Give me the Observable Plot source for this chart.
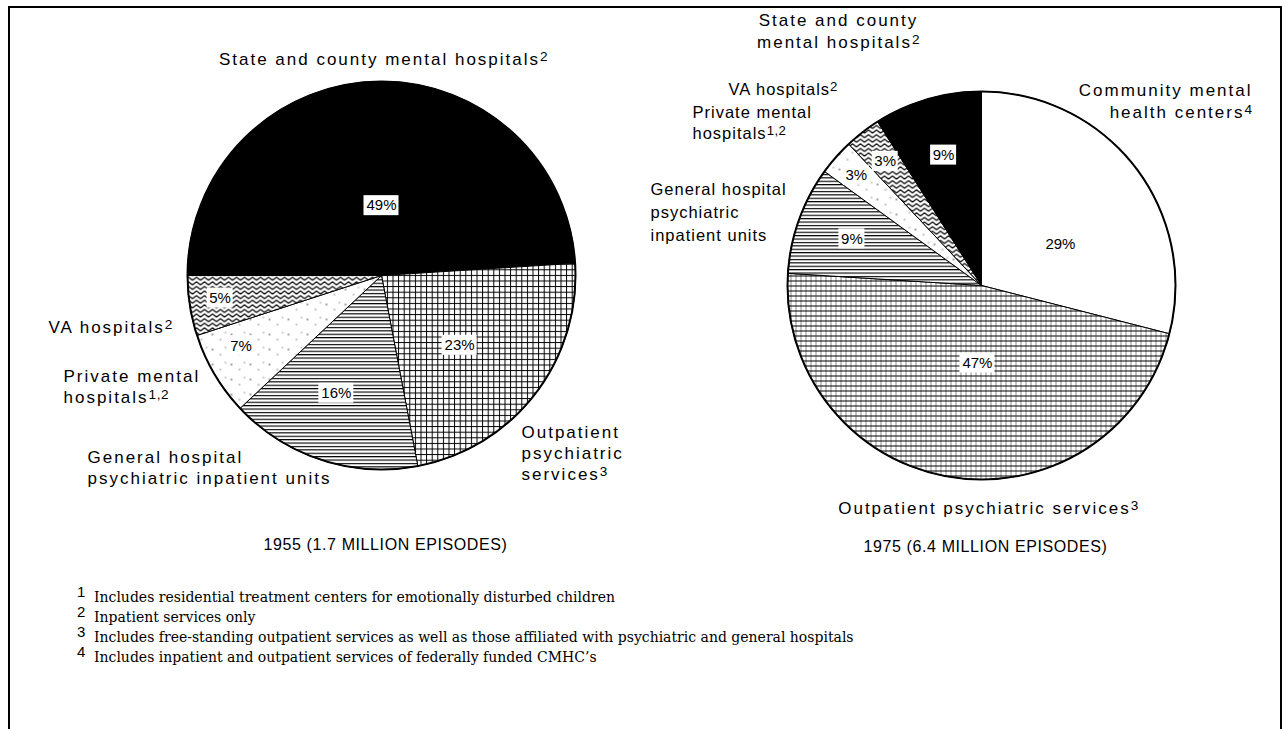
<!DOCTYPE html>
<html>
<head>
<meta charset="utf-8">
<script src="https://cdn.jsdelivr.net/npm/d3@7"></script>
<script src="https://cdn.jsdelivr.net/npm/@observablehq/plot@0.6"></script>
<style>
  body { margin: 0; background: #fff; }
  #wrap { position: relative; width: 1286px; height: 729px; overflow: hidden; background: #fff; }
  #frame { position: absolute; left: 8px; top: 6px; width: 1270px; height: 800px; border: 2px solid #000; border-bottom: none; }
  #chart { position: absolute; left: 0; top: 0; }
  #notes { position: absolute; left: 74px; top: 587px; font-family: "DejaVu Serif", serif; font-size: 14px; line-height: 20px; color: #000; }
  #notes .fn { white-space: nowrap; }
  #notes .mk { display: inline-block; width: 20px; font-family: "Liberation Sans", Arial, sans-serif; font-size: 15px; position: relative; top: -5px; text-align: left; padding-left: 3px; box-sizing: border-box; }
</style>
</head>
<body>
<div id="wrap">
  <div id="frame"></div>
  <div id="chart"></div>
  <div id="notes"></div>
</div>
<script>
// ---------------- DATA ----------------
const years = ["1955", "1975"];
const episodeTotals = ["1.7 MILLION EPISODES", "6.4 MILLION EPISODES"];

const categories1955 = [
  "State and county mental hospitals",
  "Outpatient psychiatric services",
  "General hospital psychiatric inpatient units",
  "Private mental hospitals",
  "VA hospitals"
];
const values1955 = [49, 23, 16, 7, 5];
const labels1955 = [
  "State and county mental hospitals{2}",
  "Outpatient\npsychiatric\nservices{3}",
  "General hospital\npsychiatric inpatient units",
  "Private mental\nhospitals{1,2}",
  "VA hospitals{2}"
];

const categories1975 = [
  "Community mental health centers",
  "Outpatient psychiatric services",
  "General hospital psychiatric inpatient units",
  "Private mental hospitals",
  "VA hospitals",
  "State and county mental hospitals"
];
const values1975 = [29, 47, 9, 3, 3, 9];
const labels1975 = [
  "Community mental\nhealth centers{4}",
  "Outpatient psychiatric services{3}",
  "General hospital\npsychiatric\ninpatient units",
  "Private mental\nhospitals{1,2}",
  "VA hospitals{2}",
  "State and county\nmental hospitals{2}"
];

const footnoteMarks = ["1", "2", "3", "4"];
const footnoteTexts = [
  "Includes residential treatment centers for emotionally disturbed children",
  "Inpatient services only",
  "Includes free-standing outpatient services as well as those affiliated with psychiatric and general hospitals",
  "Includes inpatient and outpatient services of federally funded CMHC\u2019s"
];

// ---------------- LAYOUT / STYLE ----------------
const W = 1286, H = 580;
const fillOf = {
  "State and county mental hospitals": "#000",
  "General hospital psychiatric inpatient units": "url(#p-hlines)",
  "Private mental hospitals": "url(#p-dots)",
  "VA hospitals": "url(#p-zig)",
  "Community mental health centers": "#fff"
};
// font size -> letter spacing
const spacingOf = {"17": "2px", "16.5": "1px", "16": "0.6px"};
const pies = [
  {
    cx: 381, cy: 275, r: 194, start: -90,
    cats: categories1955, vals: values1955, labels: labels1955,
    outpatientFill: "url(#p-grid)",
    // [x, y, textAnchor, fontSize, lineHeight] for category labels
    labelPos: [[383, 58, "middle", 17, 1.25], [521, 452, "start", 17, 1.22], [87, 466, "start", 17, 1.25], [63, 385, "start", 17, 1.22], [48, 326, "start", 17, 1.25]],
    // [radius fraction, angle offset (deg)] for percent labels
    pctPos: [[0.36, 1.8], [0.54, 4], [0.65, 3], [0.81, 4], [0.84, 1]],
    caption: [385, 544]
  },
  {
    cx: 981, cy: 285, r: 194, start: 0,
    cats: categories1975, vals: values1975, labels: labels1975,
    outpatientFill: "url(#p-grid2)",
    labelPos: [[1252, 99.5, "end", 17, 1.3], [988, 507, "middle", 17, 1.25], [650, 210, "start", 16.5, 1.38], [692, 121.5, "start", 16.5, 1.28], [728, 88, "start", 16.5, 1.25], [838, 29, "middle", 17, 1.3]],
    pctPos: [[0.46, 10], [0.40, -6], [0.71, 0], [0.86, 0], [0.81, 0], [0.70, 0]],
    caption: [985, 546]
  }
];

// ---------------- GEOMETRY ----------------
const deg = Math.PI / 180;
const sliceMarks = [];
const pctRows = [];
const labelMarks = [];
const capRows = [];
const circleRows = [];
const catFont = "Liberation Sans, Arial, sans-serif";

pies.forEach((p, pi) => {
  const arcs = d3.pie().sort(null).value(d => d)
    .startAngle(p.start * deg).endAngle(p.start * deg + 2 * Math.PI)(p.vals);
  arcs.forEach((a, i) => {
    const pts = [{x: p.cx, y: p.cy}];
    const n = Math.max(2, Math.ceil((a.endAngle - a.startAngle) / (0.5 * deg)));
    for (let k = 0; k <= n; k++) {
      const t = a.startAngle + (a.endAngle - a.startAngle) * k / n;
      pts.push({x: p.cx + p.r * Math.sin(t), y: p.cy - p.r * Math.cos(t)});
    }
    pts.push({x: p.cx, y: p.cy});
    const cat = p.cats[i];
    const fill = cat === "Outpatient psychiatric services" ? p.outpatientFill : fillOf[cat];
    sliceMarks.push(Plot.line(pts, {x: "x", y: "y", fill, stroke: "#000", strokeWidth: 1, strokeLinejoin: "round", curve: "linear"}));

    const [frac, off] = p.pctPos[i];
    const mid = (a.startAngle + a.endAngle) / 2 + off * deg;
    const txt = `${p.vals[i]}%`;
    pctRows.push({
      x: p.cx + frac * p.r * Math.sin(mid),
      y: p.cy - frac * p.r * Math.cos(mid),
      text: txt,
      w: txt.length * 9 + 8
    });
    const [lx, ly, anchor, fs, lh] = p.labelPos[i];
    labelMarks.push(Plot.text([{x: lx, y: ly, text: p.labels[i]}], {
      x: "x", y: "y", text: "text", textAnchor: anchor, lineHeight: lh,
      fontSize: fs, fontFamily: catFont, fill: "#000"
    }));
  });
  capRows.push({x: p.caption[0], y: p.caption[1], text: `${years[pi]} (${episodeTotals[pi]})`});
  circleRows.push({x: p.cx, y: p.cy, r: p.r});
});

const boxH = 20;
const chart = Plot.plot({
  width: W, height: H,
  margin: 0,
  x: {domain: [0, W], range: [0, W], axis: null},
  y: {domain: [0, H], range: [0, H], axis: null},
  style: {background: "transparent", overflow: "visible"},
  marks: [
    ...sliceMarks,
    Plot.dot(circleRows, {x: "x", y: "y", r: circleRows[0].r, fill: "none", stroke: "#000", strokeWidth: 2}),
    Plot.rect(pctRows, {x1: d => d.x - d.w / 2, x2: d => d.x + d.w / 2, y1: d => d.y - boxH / 2, y2: d => d.y + boxH / 2, fill: "#fff"}),
    Plot.text(pctRows, {x: "x", y: "y", text: "text", fontSize: 15, fontFamily: catFont, fill: "#000"}),
    ...labelMarks,
    Plot.text(capRows, {x: "x", y: "y", text: "text", fontSize: 16, fontFamily: catFont, fill: "#000"})
  ]
});

// patterns
const svgNS = "http://www.w3.org/2000/svg";
const defs = document.createElementNS(svgNS, "defs");
defs.innerHTML = `
<pattern id="p-hlines" patternUnits="userSpaceOnUse" width="6" height="3.4">
  <rect width="6" height="3.4" fill="#fff"/><rect y="0" width="6" height="1.15" fill="#000"/>
</pattern>
<pattern id="p-grid" patternUnits="userSpaceOnUse" width="5.6" height="5.6">
  <rect width="5.6" height="5.6" fill="#fff"/><rect width="5.6" height="1" fill="#000"/><rect width="1" height="5.6" fill="#000"/>
</pattern>
<pattern id="p-grid2" patternUnits="userSpaceOnUse" width="5" height="5">
  <rect width="5" height="5" fill="#fff"/><rect width="5" height="1" fill="#000"/><rect width="0.9" height="5" fill="#000" fill-opacity="0.5"/>
</pattern>
<pattern id="p-zig" patternUnits="userSpaceOnUse" width="8" height="4.6">
  <rect width="8" height="4.6" fill="#fff"/><path d="M0,3.8 L4,0.8 L8,3.8" fill="none" stroke="#000" stroke-width="1.15"/>
</pattern>
<pattern id="p-dots" patternUnits="userSpaceOnUse" width="19" height="15">
  <rect width="19" height="15" fill="#fff"/>
  <circle cx="3" cy="4" r="0.7" fill="#000"/><circle cx="11" cy="9" r="0.6" fill="#000"/><circle cx="16" cy="2" r="0.5" fill="#000"/>
</pattern>`;
chart.insertBefore(defs, chart.firstChild);

// letter spacing by font size
Object.entries(spacingOf).forEach(([fs, ls]) => {
  chart.querySelectorAll(`g[font-size="${fs}"]`).forEach(g => g.setAttribute("letter-spacing", ls));
});

// superscripts written as {n}
chart.querySelectorAll("text, tspan").forEach(el => {
  for (const node of Array.from(el.childNodes)) {
    if (node.nodeType === 3 && node.nodeValue.includes("{")) {
      const parts = node.nodeValue.split(/(\{[^}]*\})/);
      const frag = document.createDocumentFragment();
      for (const part of parts) {
        if (!part) continue;
        if (part.startsWith("{")) {
          const t = document.createElementNS(svgNS, "tspan");
          t.setAttribute("baseline-shift", "4.5");
          t.setAttribute("font-size", "0.8em");
          t.setAttribute("letter-spacing", "0.5px");
          t.textContent = part.slice(1, -1);
          frag.appendChild(t);
        } else {
          frag.appendChild(document.createTextNode(part));
        }
      }
      el.replaceChild(frag, node);
    }
  }
});

document.getElementById("chart").appendChild(chart);

// footnotes
const notes = d3.select("#notes");
footnoteMarks.forEach((m, i) => {
  const row = notes.append("div").attr("class", "fn");
  row.append("span").attr("class", "mk").text(m);
  row.append("span").text(footnoteTexts[i]);
});
</script>
</body>
</html>
